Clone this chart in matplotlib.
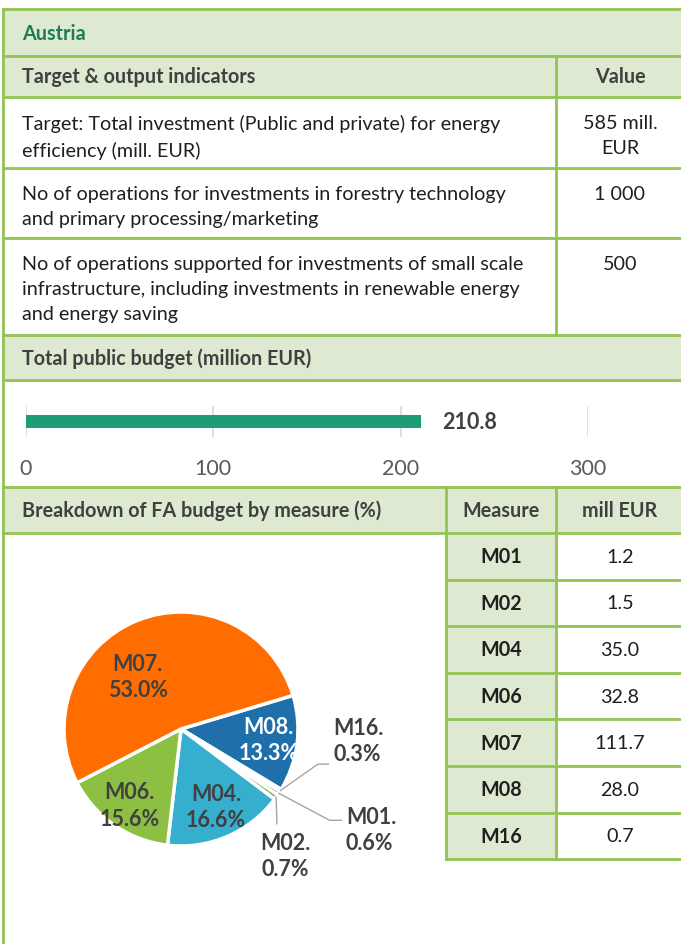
import math
import matplotlib.pyplot as plt
from matplotlib.patches import Rectangle

# data
country = "Austria"
indicators = [
    "Target: Total investment (Public and private) for energy\nefficiency (mill. EUR)",
    "No of operations for investments in forestry technology\nand primary processing/marketing",
    "No of operations supported for investments of small scale\ninfrastructure, including investments in renewable energy\nand energy saving",
]
indicator_values = ["585 mill.\nEUR", "1 000", "500"]
total_budget = 210.8
budget_ticks = [0, 100, 200, 300]
measures = ["M01", "M02", "M04", "M06", "M07", "M08", "M16"]
mill_eur = [1.2, 1.5, 35.0, 32.8, 111.7, 28.0, 0.7]
pie_order = ["M08", "M16", "M01", "M02", "M04", "M06", "M07"]

GREEN = "#92C353"
FILL = "#DDE9D1"
DARK = "#404040"
TXT = "#1F1F1F"
FS = 14.2

plt.rcParams['font.family'] = ["Lato", 'DejaVu Sans']

fig = plt.figure(figsize=(6.81, 9.45), dpi=100)
W, H = 681, 945
ax = fig.add_axes([0, 0, 1, 1])
ax.set_xlim(0, W)
ax.set_ylim(H, 0)
ax.axis("off")

def fill(x0, y0, x1, y1):
    ax.add_patch(Rectangle((x0, y0), x1 - x0, y1 - y0, facecolor=FILL, edgecolor="none", zorder=0))

def hline(y, x0=3, x1=W):
    ax.plot([x0, x1], [y, y], color=GREEN, lw=2, solid_capstyle="projecting", zorder=2)

def vline(x, y0, y1):
    ax.plot([x, x], [y0, y1], color=GREEN, lw=2, solid_capstyle="projecting", zorder=2)

# header rows
fill(3, 10, W, 98)
fill(3, 336, W, 381)
fill(3, 488, W, 534)
for y in [10, 57, 98, 169, 239, 336, 381, 488, 534]:
    hline(y)
vline(3, 10, H + 5)
vline(556, 57, 336)

ax.text(22, 34, country, fontsize=FS, fontweight="bold", color="#1E7B58", va="center")
ax.text(22, 77, "Target & output indicators", fontsize=FS, fontweight="bold", color=DARK, va="center")
ax.text(620, 77, "Value", fontsize=FS, fontweight="bold", color=DARK, va="center", ha="center")

row_tops = [98, 169, 239]
for top, txt, val in zip(row_tops, indicators, indicator_values):
    ax.text(22, top + 17, txt, fontsize=FS, color=TXT, va="top", linespacing=1.58)
    ax.text(620, top + 17, val, fontsize=FS, color=TXT, va="top", ha="center", linespacing=1.58)

ax.text(22, 359, "Total public budget (million EUR)", fontsize=FS, fontweight="bold", color=DARK, va="center")
ax.text(22, 511, "Breakdown of FA budget by measure (%)", fontsize=FS, fontweight="bold", color=DARK, va="center")
ax.text(501, 511, "Measure", fontsize=FS, fontweight="bold", color=DARK, va="center", ha="center")
ax.text(620, 511, "mill EUR", fontsize=FS, fontweight="bold", color=DARK, va="center", ha="center")

# measure table
row_h = 46.6
t0 = 534
fill(446, t0, 556, t0 + row_h * len(measures))
for i, (m, v) in enumerate(zip(measures, mill_eur)):
    yc = t0 + row_h * (i + 0.5)
    ax.text(501, yc, m, fontsize=FS, fontweight="bold", color=TXT, va="center", ha="center")
    ax.text(620, yc, f"{v:.1f}", fontsize=FS, color=TXT, va="center", ha="center")
    hline(t0 + row_h * (i + 1), 446, W)
vline(446, 488, t0 + row_h * len(measures))
vline(556, 488, t0 + row_h * len(measures))

# budget bar
bx0, bx1 = 26, 588
by0, by1 = 407, 438
bax = fig.add_axes([bx0 / W, 1 - by1 / H, (bx1 - bx0) / W, (by1 - by0) / H])
bax.set_facecolor("none")
bax.barh([0], [total_budget], height=0.39, color="#1E9B77", zorder=3)
bax.set_xlim(0, 300)
bax.set_ylim(-0.5, 0.5)
bax.set_xticks(budget_ticks)
bax.set_yticks([])
bax.grid(axis="x", color="#D9D9D9", lw=1.2, zorder=0)
bax.tick_params(axis="x", length=0, pad=15, labelsize=15.5, labelcolor="#595959")
for s in bax.spines.values():
    s.set_visible(False)
bax.annotate(f"{total_budget}", xy=(total_budget, 0), xytext=(15, 0), textcoords="offset points",
             va="center", ha="left", fontsize=15.5, fontweight="bold", color=DARK)

# pie
cx, cy, R = 181, 730, 117
px0, px1, py0, py1 = 0, 445, 534, H
pax = fig.add_axes([px0 / W, 1 - py1 / H, (px1 - px0) / W, (py1 - py0) / H])
pax.set_facecolor("none")
vals = [mill_eur[measures.index(m)] for m in pie_order]
total = sum(mill_eur)
colors = {"M08": "#1F6FAB", "M16": "#A5A5A5", "M01": "#4F81BD", "M02": "#70AD47",
          "M04": "#36AECE", "M06": "#8DC042", "M07": "#FF6D00"}
wedges, _ = pax.pie(vals, startangle=16.7, counterclock=False, radius=1,
                    colors=[colors[m] for m in pie_order],
                    wedgeprops=dict(edgecolor="white", linewidth=2.5))
pax.set_aspect("auto")
pax.set_xlim((px0 - cx) / R, (px1 - cx) / R)
pax.set_ylim((cy - py1) / R, (cy - py0) / R)
pax.axis("off")

inside = {"M07": (-0.37, 0.45, DARK), "M08": (0.75, -0.09, "white"),
          "M06": (-0.44, -0.65, DARK), "M04": (0.30, -0.66, DARK)}
outside = {"M16": ((1.17, -0.30), (1.26, -0.30), (1.30, -0.10), "left"),
           "M01": ((1.27, -0.78), (1.37, -0.78), (1.41, -0.86), "left"),
           "M02": ((0.82, -0.81), None, (0.89, -1.08), "center")}
for w, m, v in zip(wedges, pie_order, vals):
    lab = f"{m}.\n{v / total * 100:.1f}%"
    if m in inside:
        x, y, c = inside[m]
        pax.text(x, y, lab, ha="center", va="center", fontsize=15.5, fontweight="bold",
                 color=c, linespacing=1.3)
    else:
        mid = math.radians((w.theta1 + w.theta2) / 2)
        sx, sy = math.cos(mid), math.sin(mid)
        elbow, end, tpos, ha = outside[m]
        pts = [(sx, sy), elbow] + ([end] if end else [])
        pax.plot([p[0] for p in pts], [p[1] for p in pts], color="#A6A6A6", lw=1)
        pax.text(tpos[0], tpos[1], lab, ha=ha, va="center", fontsize=15.5, fontweight="bold",
                 color=DARK, linespacing=1.3)

fig.savefig("out.png", dpi=100)
